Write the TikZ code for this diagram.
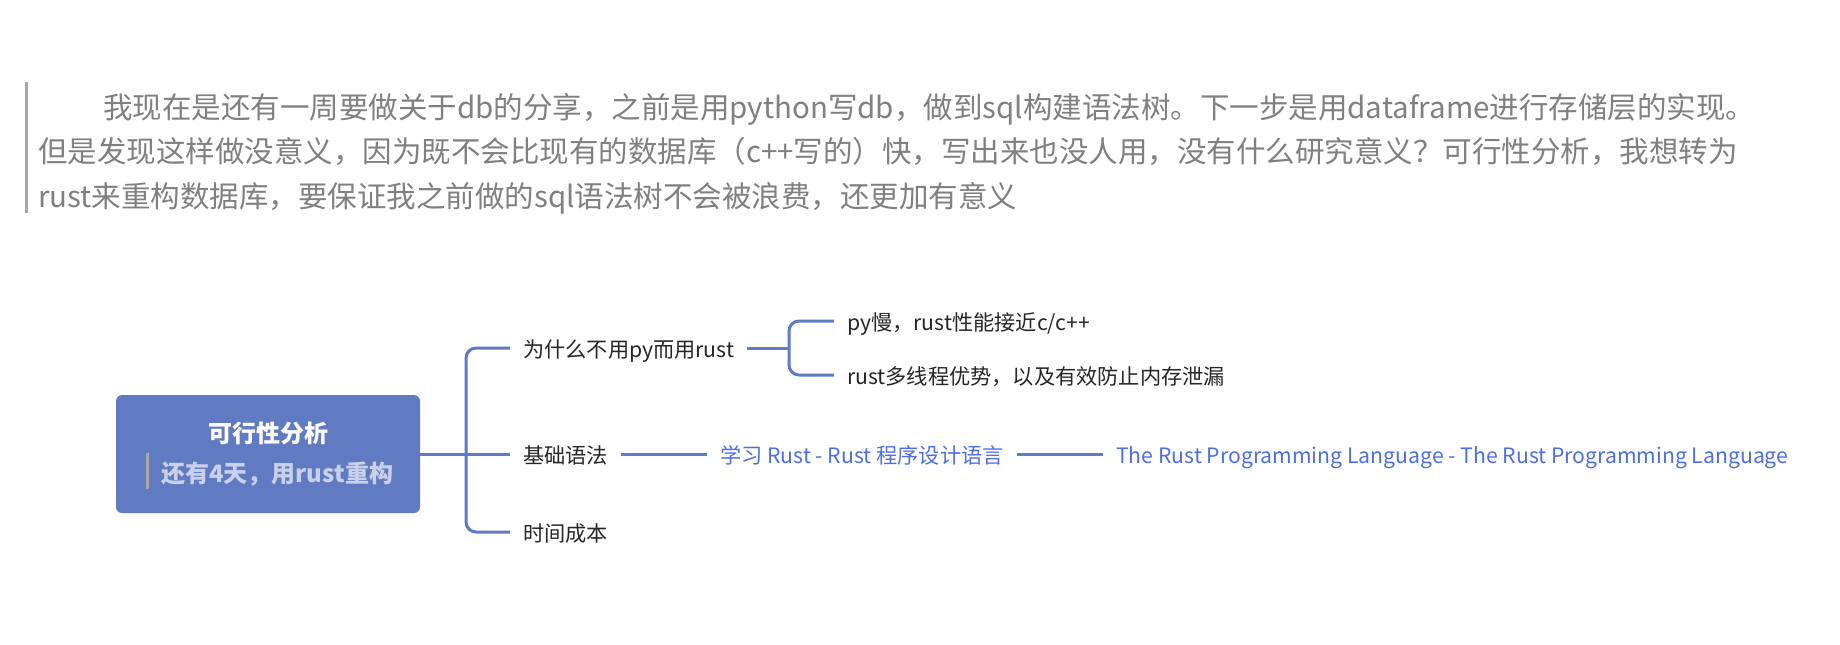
\documentclass[tikz,border=0pt]{standalone}
\usepackage{fontspec}
\setmainfont{Noto Sans CJK SC}
\definecolor{rootblue}{HTML}{617BC2}
\definecolor{connblue}{HTML}{5F7AC6}
\definecolor{linkblue}{HTML}{4F6EE6}
\definecolor{subtxt}{HTML}{C9D0EC}
\definecolor{graytxt}{HTML}{808080}
\definecolor{graybar}{HTML}{A6A6A6}
\definecolor{childtxt}{HTML}{262626}
\begin{document}
\begin{tikzpicture}[x=1pt,y=-1pt,
  toptext/.style={anchor=base west, inner sep=0pt, text=graytxt, font=\fontsize{29.5pt}{36pt}\selectfont},
  rootbox/.style={fill=rootblue, rounded corners=6pt, minimum width=304pt, minimum height=118pt, inner sep=0pt},
  roottitle/.style={anchor=base, inner sep=0pt, text=white, font=\fontsize{24pt}{28pt}\selectfont\bfseries},
  rootsub/.style={anchor=base west, inner sep=0pt, text=subtxt, font=\fontsize{24pt}{28pt}\selectfont\bfseries},
  child/.style={anchor=west, inner xsep=13pt, inner ysep=0pt, text height=20pt, text depth=0.4pt, text=childtxt, font=\fontsize{21.2pt}{25pt}\selectfont},
  linknode/.style={child, text=linkblue},
  conn/.style={draw=connblue, line width=3pt},
  bar/.style={draw=graybar, line width=3pt}
]
\fill[white] (0,0) rectangle (1840,645);
\useasboundingbox (0,0) rectangle (1840,645);

% top quote
\draw[bar] (26,82) -- (26,213);
\node[toptext] (top1) at (103,118.4) {我现在是还有一周要做关于db的分享，之前是用python写db，做到sql构建语法树。下一步是用dataframe进行存储层的实现。};
\node[toptext] (top2) at (38,162.9) {但是发现这样做没意义，因为既不会比现有的数据库（c++写的）快，写出来也没人用，没有什么研究意义？可行性分析，我想转为};
\node[toptext] (top3) at (38,207.4) {rust来重构数据库，要保证我之前做的sql语法树不会被浪费，还更加有意义};

% root
\node[rootbox] (root) at (268,454) {};
\node[roottitle] (rt) at (268.5,442) {可行性分析};
\node[rootsub] (rs) at (161,482) {还有4天，用rust重构};
\draw[draw=graybar, line width=3pt] (147,453) -- (147,489);

% children
\node[child] (c1) at (510,348) {为什么不用py而用rust};
\node[child] (c2) at (510,454) {基础语法};
\node[child] (c3) at (510,532) {时间成本};

\node[child] (s1) at (834,321) {py慢，rust性能接近c/c++};
\node[child] (s2) at (834,375) {rust多线程优势，以及有效防止内存泄漏};

\node[linknode] (l1) at (707,454) {学习 Rust - Rust 程序设计语言};
\node[linknode] (l2) at (1103,454) {The Rust Programming Language - The Rust Programming Language};

\coordinate (t) at (466,454);
\coordinate (j1) at (789,348);

\draw[conn, rounded corners=10pt] (c1.west) -| (t) |- (c3.west);
\draw[conn] (root.east) -- (c2.west);
\draw[conn, rounded corners=10pt] (s1.west) -| (j1) |- (s2.west);
\draw[conn] (c1.east) -- (j1);
\draw[conn] (c2.east) -- (l1.west);
\draw[conn] (l1.east) -- (l2.west);
\end{tikzpicture}
\end{document}
